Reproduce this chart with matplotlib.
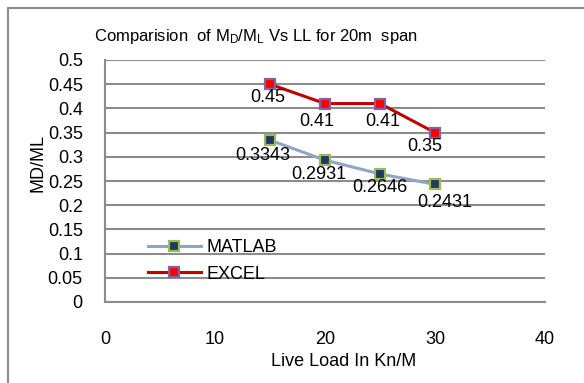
import matplotlib
matplotlib.use("Agg")
import matplotlib.pyplot as plt
from matplotlib.patches import Rectangle

plt.rcParams['font.family'] = ['Liberation Sans', 'DejaVu Sans']
plt.rcParams['mathtext.fontset'] = 'custom'
plt.rcParams['mathtext.rm'] = 'Liberation Sans'
plt.rcParams['mathtext.it'] = 'Liberation Sans'

live_load = [15, 20, 25, 30]
matlab = [0.3343, 0.2931, 0.2646, 0.2431]
excel = [0.45, 0.41, 0.41, 0.35]
matlab_labels = ["0.3343", "0.2931", "0.2646", "0.2431"]
excel_labels = ["0.45", "0.41", "0.41", "0.35"]
x_ticks = [0, 10, 20, 30, 40]
y_ticks = [0, 0.05, 0.1, 0.15, 0.2, 0.25, 0.3, 0.35, 0.4, 0.45, 0.5]

# label offsets in pixels (layout, not data)
matlab_offsets = [(-7, -15), (-6, -14), (0, -13.5), (10, -18.5)]
excel_offsets = [(-2.5, -13), (-8, -18), (3, -18), (-10, -13.5)]

W, H = 584, 383
FS = 13
fig = plt.figure(figsize=(W/100, H/100), dpi=100)
fig.patch.set_facecolor('white')
fig.add_artist(Rectangle((8/W, -0.05), 1.2, (H-8)/H + 0.05, transform=fig.transFigure,
                         fill=False, edgecolor='#8c8c8c', linewidth=1.5))

ax = fig.add_axes([105/W, 1 - 302/H, (545-105)/W, (302-60)/H])
ax.set_xlim(0, 40)
ax.set_ylim(0, 0.5)
ax.set_xticks(x_ticks)
ax.set_yticks(y_ticks)
ax.set_yticklabels([f"{v:g}" for v in y_ticks])
ax.tick_params(length=0, labelsize=FS, colors='black')
ax.tick_params(axis='x', pad=21)
ax.tick_params(axis='y', pad=16)
ax.grid(axis='y', color='#8c8c8c', linewidth=1.5)
ax.set_axisbelow(True)
for s in ['top', 'right']:
    ax.spines[s].set_visible(False)
for s in ['left', 'bottom']:
    ax.spines[s].set_color('#8c8c8c')
    ax.spines[s].set_linewidth(1.5)

ax.plot(live_load, matlab, color='#8EA6C4', linewidth=2.2, marker='s', markersize=6.5,
        markerfacecolor='#1F3864', markeredgecolor='#9BBB59', markeredgewidth=1.6, label='MATLAB')
ax.plot(live_load, excel, color='#C00000', linewidth=2.2, marker='s', markersize=6.5,
        markerfacecolor='#FF0000', markeredgecolor='#8064A2', markeredgewidth=1.6, label='EXCEL')

for x, y, t, o in zip(live_load, matlab, matlab_labels, matlab_offsets):
    ax.annotate(t, (x, y), xytext=o, textcoords='offset pixels', ha='center', va='center', fontsize=FS)
for x, y, t, o in zip(live_load, excel, excel_labels, excel_offsets):
    ax.annotate(t, (x, y), xytext=o, textcoords='offset pixels', ha='center', va='center', fontsize=FS)

ax.legend(loc='center left', bbox_to_anchor=(132/W, 1 - 261/H), bbox_transform=fig.transFigure,
          frameon=False, fontsize=FS, handlelength=2.9, labelspacing=0.5, handletextpad=0.35,
          borderpad=0.4)

fig.text(344/W, 1 - 362/H, 'Live Load In Kn/M', ha='center', va='center', fontsize=FS)
fig.text(38/W, 1 - 163/H, 'MD/ML', ha='center', va='center', rotation=90, fontsize=FS)
fig.text(256/W, 1 - 36/H, 'Comparision  of M$_\\mathregular{D}$/M$_\\mathregular{L}$ Vs LL for 20m  span',
         ha='center', va='center', fontsize=12)

fig.savefig('out.png', dpi=100)
